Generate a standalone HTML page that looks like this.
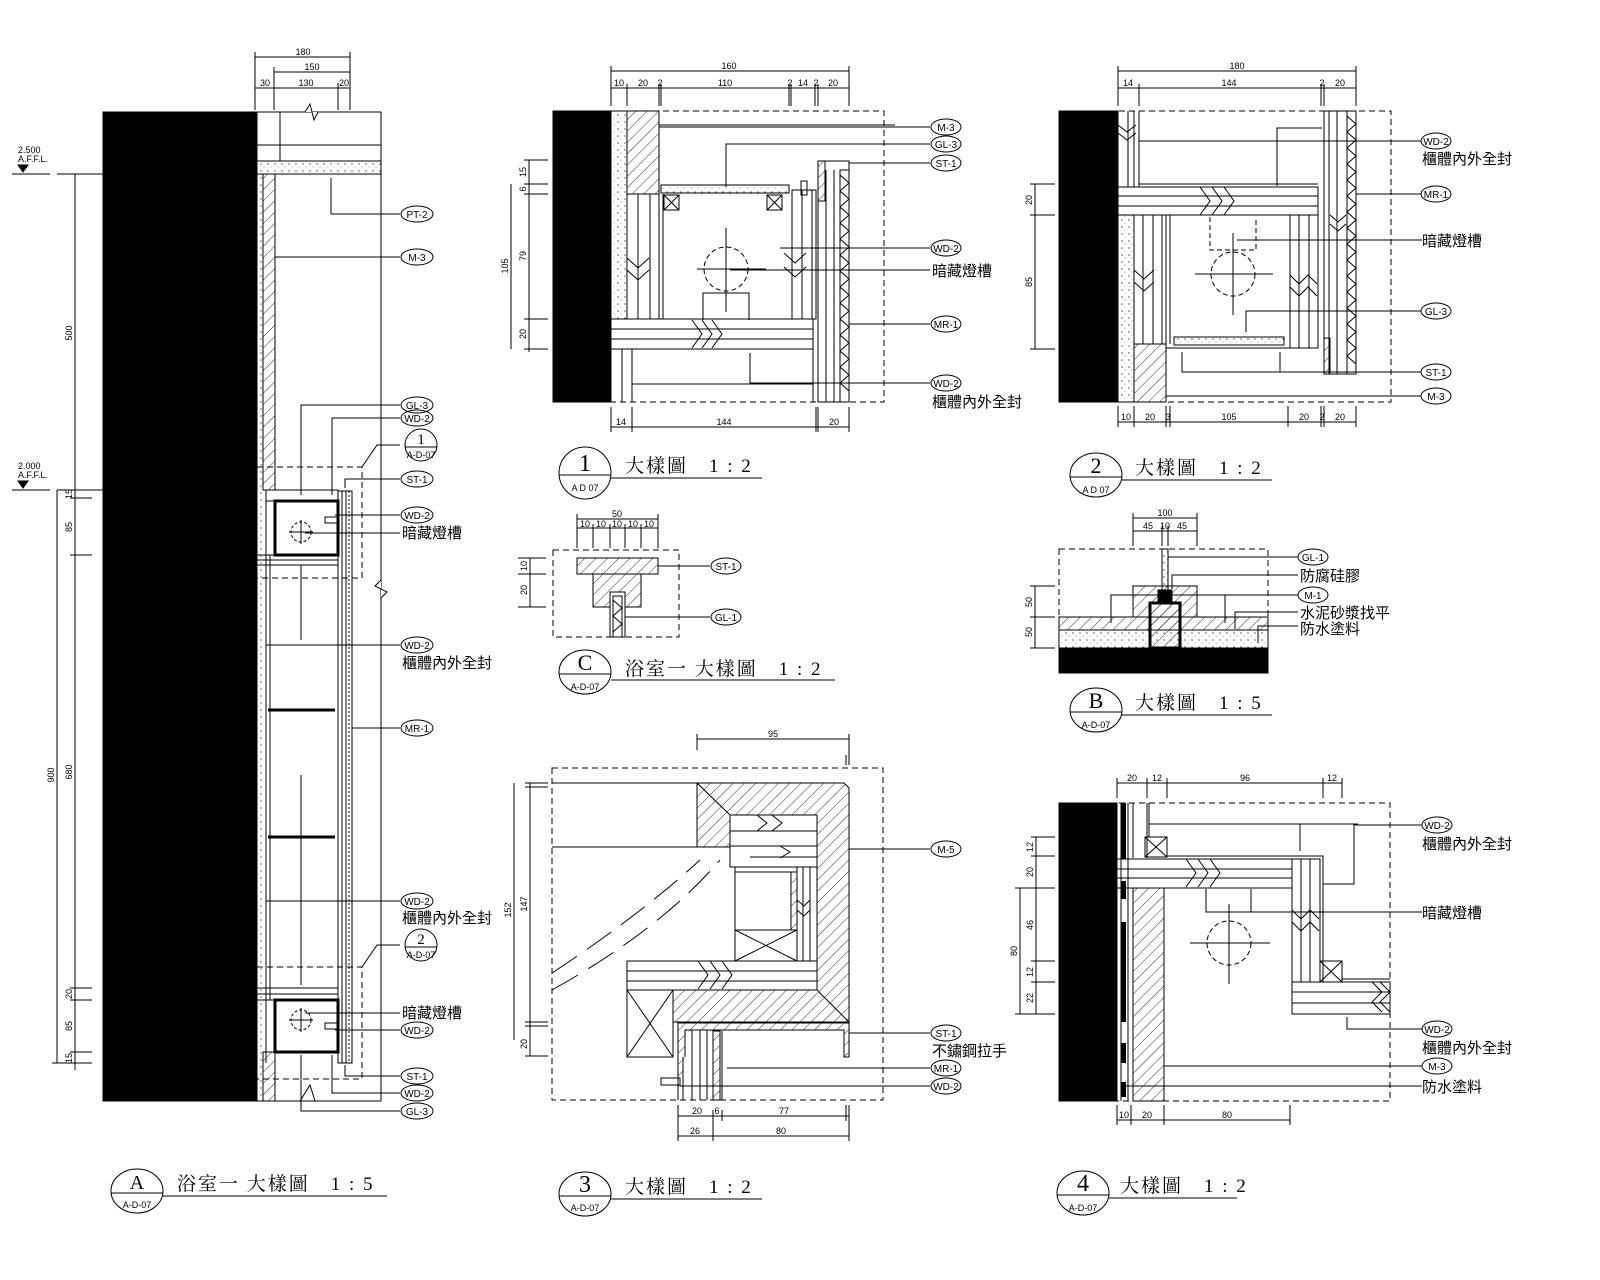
<!DOCTYPE html>
<html><head><meta charset="utf-8"><style>
html,body{margin:0;padding:0;background:#fff}
svg{display:block}
text{font-family:"Liberation Sans","Noto Sans CJK TC",sans-serif;fill:#000}
.d{font-size:9px}
.l{font-size:10px}
.c{font-family:"Liberation Serif","Noto Serif CJK SC","Noto Sans CJK TC",serif}
.t{font-size:19px;font-family:"Liberation Serif","Noto Serif CJK SC","Noto Sans CJK TC",serif;letter-spacing:2px}
</style></head><body>
<svg width="1600" height="1280" viewBox="0 0 1600 1280" xmlns="http://www.w3.org/2000/svg" stroke="#000" fill="none" stroke-width="1">
<defs>
<pattern id="h" width="8" height="8" patternUnits="userSpaceOnUse" patternTransform="rotate(45)"><line x1="0" y1="0" x2="0" y2="8" stroke="#000" stroke-width="0.8"/></pattern>
<pattern id="dt" width="7" height="7" patternUnits="userSpaceOnUse"><circle cx="2" cy="3" r="0.6" fill="#000" stroke="none"/><circle cx="5" cy="6" r="0.4" fill="#000" stroke="none"/></pattern>
</defs>

<!-- ================= A (left elevation) ================= -->
<rect x="103" y="112" width="154" height="989" fill="#000"/>
<rect x="257" y="174" width="6" height="927" fill="url(#dt)" stroke="none"/>
<rect x="263" y="174" width="12" height="316" fill="url(#h)"/>
<rect x="263" y="1052" width="12" height="49" fill="url(#h)"/>
<line x1="257" y1="112" x2="381" y2="112"/>
<line x1="381" y1="112" x2="381" y2="1101"/>
<line x1="257" y1="1101" x2="381" y2="1101"/>
<line x1="257" y1="145" x2="381" y2="145"/>
<line x1="280" y1="112" x2="280" y2="145"/>
<rect x="257" y="145" width="23" height="16"/>
<rect x="257" y="161" width="124" height="13" fill="url(#dt)"/>
<polyline points="295,112 305,112 310,104 314,120 318,112 381,112" fill="#fff"/>
<polyline points="381,580 375,586 387,592 381,598" fill="#fff"/>
<polyline points="300,1101 310,1085 315,1101" />
<!-- cabinet -->
<rect x="275" y="501" width="63" height="54" stroke-width="3"/>
<rect x="266" y="490" width="72" height="11"/>
<line x1="266" y1="490" x2="266" y2="1063"/>
<line x1="270" y1="555" x2="270" y2="1000"/>
<rect x="257" y="555" width="81" height="10"/>
<line x1="257" y1="560" x2="338" y2="560"/>
<rect x="257" y="988" width="81" height="12"/>
<line x1="257" y1="994" x2="338" y2="994"/>
<rect x="275" y="1000" width="63" height="52" stroke-width="3"/>
<rect x="338" y="491" width="14" height="572"/>
<line x1="342" y1="491" x2="342" y2="1063"/><line x1="346" y1="491" x2="346" y2="1063"/>
<line x1="349" y1="491" x2="349" y2="1063" stroke-dasharray="2,2"/>
<line x1="268" y1="710" x2="335" y2="710" stroke-width="3"/>
<line x1="268" y1="837" x2="335" y2="837" stroke-width="3"/>
<line x1="301" y1="775" x2="301" y2="985"/>
<line x1="301" y1="565" x2="301" y2="640"/>
<circle cx="301" cy="532" r="10" stroke-dasharray="3,2"/><line x1="289" y1="532" x2="313" y2="532"/><line x1="301" y1="520" x2="301" y2="544"/>
<circle cx="301" cy="1020" r="10" stroke-dasharray="3,2"/><line x1="289" y1="1020" x2="313" y2="1020"/><line x1="301" y1="1008" x2="301" y2="1032"/>
<rect x="325" y="517" width="12" height="6"/><rect x="325" y="1023" width="12" height="6"/>
<!-- callout dashed boxes -->
<path d="M257 467 H362 V578 H257" stroke-dasharray="6,4"/>
<polyline points="362,467 377,445 400,445"/>
<path d="M257 967 H362 V1079 H257" stroke-dasharray="6,4"/>
<polyline points="362,967 377,945 400,945"/>
<!-- leaders A -->
<polyline points="331,178 331,214 400,214"/>
<line x1="275" y1="257" x2="400" y2="257"/>
<polyline points="301,495 301,405 400,405"/>
<polyline points="332,495 332,418 400,418"/>
<polyline points="345,488 345,479 400,479"/>
<line x1="335" y1="515" x2="400" y2="515"/>
<line x1="305" y1="533" x2="400" y2="533"/>
<line x1="266" y1="645" x2="400" y2="645"/>
<line x1="352" y1="728" x2="400" y2="728"/>
<line x1="266" y1="901" x2="400" y2="901"/>
<line x1="305" y1="1013" x2="400" y2="1013"/>
<line x1="335" y1="1030" x2="400" y2="1030"/>
<polyline points="345,1065 345,1076 400,1076"/>
<polyline points="332,1055 332,1093 400,1093"/>
<polyline points="301,1055 301,1111 400,1111"/>
<g class="l" text-anchor="middle">
<ellipse cx="417" cy="214" rx="16" ry="8"/><text x="417" y="218" stroke="none">PT-2</text>
<ellipse cx="417" cy="257" rx="16" ry="8"/><text x="417" y="261" stroke="none">M-3</text>
<ellipse cx="417" cy="405" rx="16" ry="8"/><text x="417" y="409" stroke="none">GL-3</text>
<ellipse cx="417" cy="418" rx="16" ry="8"/><text x="417" y="422" stroke="none">WD-2</text>
<ellipse cx="417" cy="479" rx="16" ry="8"/><text x="417" y="483" stroke="none">ST-1</text>
<ellipse cx="417" cy="515" rx="16" ry="8"/><text x="417" y="519" stroke="none">WD-2</text>
<ellipse cx="417" cy="645" rx="16" ry="8"/><text x="417" y="649" stroke="none">WD-2</text>
<ellipse cx="417" cy="728" rx="16" ry="8"/><text x="417" y="732" stroke="none">MR-1</text>
<ellipse cx="417" cy="901" rx="16" ry="8"/><text x="417" y="905" stroke="none">WD-2</text>
<ellipse cx="417" cy="1030" rx="16" ry="8"/><text x="417" y="1034" stroke="none">WD-2</text>
<ellipse cx="417" cy="1076" rx="16" ry="8"/><text x="417" y="1080" stroke="none">ST-1</text>
<ellipse cx="417" cy="1093" rx="16" ry="8"/><text x="417" y="1097" stroke="none">WD-2</text>
<ellipse cx="417" cy="1111" rx="16" ry="8"/><text x="417" y="1115" stroke="none">GL-3</text>
</g>
<circle cx="421" cy="445" r="16"/><line x1="405" y1="447" x2="437" y2="447"/>
<text x="421" y="444" class="c" font-size="15" text-anchor="middle" stroke="none">1</text><text x="421" y="458" class="d" text-anchor="middle" stroke="none">A-D-07</text>
<circle cx="421" cy="945" r="16"/><line x1="405" y1="947" x2="437" y2="947"/>
<text x="421" y="944" class="c" font-size="15" text-anchor="middle" stroke="none">2</text><text x="421" y="958" class="d" text-anchor="middle" stroke="none">A-D-07</text>
<g stroke="none" font-size="15">
<text x="402" y="538">暗藏燈槽</text><text x="402" y="668">櫃體內外全封</text>
<text x="402" y="923">櫃體內外全封</text><text x="402" y="1018">暗藏燈槽</text>
</g>
<!-- A dims -->
<line x1="255" y1="57" x2="350" y2="57"/><line x1="274" y1="72" x2="350" y2="72"/><line x1="255" y1="88" x2="350" y2="88"/>
<line x1="255" y1="52" x2="255" y2="110"/><line x1="274" y1="67" x2="274" y2="110"/><line x1="338" y1="83" x2="338" y2="110"/><line x1="350" y1="52" x2="350" y2="110"/>
<g class="d" text-anchor="middle" stroke="none"><text x="303" y="55">180</text><text x="312" y="70">150</text><text x="265" y="86">30</text><text x="306" y="86">130</text><text x="344" y="86">20</text></g>
<text x="18" y="153" class="d" stroke="none">2.500</text><text x="18" y="162" class="d" stroke="none">A.F.F.L.</text>
<path d="M18 165 L28 165 L23 172 Z" fill="#000"/><line x1="12" y1="174" x2="50" y2="174"/><line x1="57" y1="174" x2="103" y2="174"/>
<text x="18" y="469" class="d" stroke="none">2.000</text><text x="18" y="478" class="d" stroke="none">A.F.F.L.</text>
<path d="M18 481 L28 481 L23 488 Z" fill="#000"/><line x1="12" y1="490" x2="50" y2="490"/><line x1="57" y1="490" x2="103" y2="490"/>
<line x1="75" y1="174" x2="75" y2="490"/><line x1="57" y1="490" x2="57" y2="1063"/><line x1="75" y1="490" x2="75" y2="1070"/>
<g stroke-width="1"><line x1="70" y1="498" x2="92" y2="498"/><line x1="70" y1="555" x2="92" y2="555"/><line x1="70" y1="988" x2="92" y2="988"/><line x1="70" y1="1000" x2="92" y2="1000"/><line x1="70" y1="1052" x2="92" y2="1052"/><line x1="52" y1="1063" x2="92" y2="1063"/></g>
<g class="d" stroke="none" text-anchor="middle">
<text transform="translate(72,333) rotate(-90)">500</text>
<text transform="translate(54,775) rotate(-90)">900</text>
<text transform="translate(72,494) rotate(-90)">15</text>
<text transform="translate(72,527) rotate(-90)">85</text>
<text transform="translate(72,772) rotate(-90)">680</text>
<text transform="translate(72,994) rotate(-90)">20</text>
<text transform="translate(72,1026) rotate(-90)">85</text>
<text transform="translate(72,1058) rotate(-90)">15</text>
</g>
<!-- title A -->
<ellipse cx="137" cy="1191" rx="26" ry="22"/><line x1="111" y1="1193" x2="163" y2="1193"/>
<text x="137" y="1189" class="c" text-anchor="middle" stroke="none" font-size="20">A</text><text x="137" y="1208" class="d" text-anchor="middle" stroke="none">A-D-07</text>
<text x="177" y="1190" class="t" stroke="none">浴室一 大樣圖　1 : 5</text><line x1="163" y1="1196" x2="387" y2="1196"/>

<!-- ================= Detail 1 ================= -->
<rect x="553" y="111" width="331" height="291" stroke-dasharray="6,4"/>
<rect x="553" y="111" width="58" height="291" fill="#000"/>
<rect x="611" y="111" width="16" height="208" fill="url(#dt)"/>
<rect x="627" y="111" width="32" height="83" fill="url(#h)"/>
<line x1="659" y1="125" x2="895" y2="125"/>
<g><line x1="627" y1="194" x2="627" y2="319"/><line x1="638" y1="194" x2="638" y2="319"/><line x1="650" y1="194" x2="650" y2="319"/><line x1="659" y1="194" x2="659" y2="319"/><line x1="663" y1="194" x2="663" y2="319"/></g>
<path d="M627 258 l11 10 l11 -10 M627 270 l11 10 l11 -10" />
<rect x="661" y="185" width="128" height="8" fill="url(#dt)"/>
<rect x="664" y="195" width="15" height="15"/><path d="M664 195 l15 15 M679 195 l-15 15"/>
<rect x="767" y="195" width="15" height="15"/><path d="M767 195 l15 15 M782 195 l-15 15"/>
<rect x="792" y="190" width="24" height="129"/><line x1="802" y1="190" x2="802" y2="319"/><line x1="812" y1="190" x2="812" y2="319"/>
<rect x="801" y="181" width="6" height="14"/>
<path d="M784 253 l11 10 l11 -10 M784 267 l11 10 l11 -10" />
<circle cx="726" cy="269" r="22" stroke-dasharray="5,3"/><line x1="697" y1="269" x2="766" y2="269"/><line x1="726" y1="228" x2="726" y2="312"/>
<path d="M703 320 V293 H749 V320" />
<rect x="611" y="319" width="202" height="30"/><line x1="611" y1="329" x2="813" y2="329"/><line x1="611" y1="339" x2="813" y2="339"/>
<path d="M692 320 l10 14 l-10 14 M702 320 l10 14 l-10 14 M712 320 l10 14 l-10 14"/>
<line x1="611" y1="349" x2="611" y2="402"/><line x1="622" y1="349" x2="622" y2="402"/><line x1="632" y1="349" x2="632" y2="402"/>
<line x1="632" y1="384" x2="813" y2="384"/>
<line x1="813" y1="349" x2="813" y2="402"/>
<rect x="818" y="161" width="31" height="241"/>
<rect x="818" y="161" width="7" height="40" fill="url(#h)"/>
<line x1="826" y1="170" x2="826" y2="402"/><line x1="834" y1="170" x2="834" y2="402"/>
<rect x="840" y="170" width="9" height="232"/>
<path d="M840 175 l9 8 l-9 8 l9 8 l-9 8 l9 8 l-9 8 l9 8 l-9 8 l9 8 l-9 8 l9 8 l-9 8 l9 8 l-9 8 l9 8 l-9 8 l9 8 l-9 8 l9 8 l-9 8 l9 8 l-9 8 l9 8 l-9 8 l9 8 l-9 8 l9 8"/>
<!-- leaders 1 -->
<line x1="659" y1="127" x2="930" y2="127"/>
<polyline points="726,187 726,144 930,144"/>
<line x1="849" y1="163" x2="930" y2="163"/>
<polyline points="780,248 930,248"/>
<line x1="730" y1="270" x2="930" y2="270"/>
<line x1="849" y1="324" x2="930" y2="324"/>
<polyline points="750,353 750,383 930,383"/>
<g class="l" text-anchor="middle">
<ellipse cx="946" cy="127" rx="15" ry="8" fill="#fff"/><text x="946" y="131" stroke="none">M-3</text>
<ellipse cx="946" cy="144" rx="15" ry="8" fill="#fff"/><text x="946" y="148" stroke="none">GL-3</text>
<ellipse cx="946" cy="163" rx="15" ry="8" fill="#fff"/><text x="946" y="167" stroke="none">ST-1</text>
<ellipse cx="946" cy="248" rx="15" ry="8" fill="#fff"/><text x="946" y="252" stroke="none">WD-2</text>
<ellipse cx="946" cy="324" rx="15" ry="8" fill="#fff"/><text x="946" y="328" stroke="none">MR-1</text>
<ellipse cx="946" cy="383" rx="15" ry="8" fill="#fff"/><text x="946" y="387" stroke="none">WD-2</text>
</g>
<text x="932" y="276" stroke="none" font-size="15">暗藏燈槽</text>
<text x="932" y="407" stroke="none" font-size="15">櫃體內外全封</text>
<!-- dims 1 -->
<line x1="611" y1="71" x2="849" y2="71"/><line x1="611" y1="88" x2="849" y2="88"/>
<g><line x1="611" y1="66" x2="611" y2="106"/><line x1="627" y1="84" x2="627" y2="106"/><line x1="659" y1="84" x2="659" y2="106"/><line x1="661" y1="84" x2="661" y2="106"/><line x1="789" y1="84" x2="789" y2="106"/><line x1="791" y1="84" x2="791" y2="106"/><line x1="815" y1="84" x2="815" y2="106"/><line x1="818" y1="84" x2="818" y2="106"/><line x1="849" y1="66" x2="849" y2="106"/></g>
<g class="d" text-anchor="middle" stroke="none"><text x="729" y="69">160</text><text x="619" y="86">10</text><text x="643" y="86">20</text><text x="660" y="86">2</text><text x="725" y="86">110</text><text x="790" y="86">2</text><text x="803" y="86">14</text><text x="816" y="86">2</text><text x="833" y="86">20</text></g>
<line x1="611" y1="427" x2="849" y2="427"/><g><line x1="611" y1="407" x2="611" y2="432"/><line x1="632" y1="407" x2="632" y2="432"/><line x1="816" y1="407" x2="816" y2="432"/><line x1="818" y1="407" x2="818" y2="432"/><line x1="849" y1="407" x2="849" y2="432"/></g>
<g class="d" text-anchor="middle" stroke="none"><text x="621" y="425">14</text><text x="724" y="425">144</text><text x="834" y="425">20</text></g>
<line x1="529" y1="160" x2="529" y2="352"/>
<g><line x1="524" y1="160" x2="548" y2="160"/><line x1="524" y1="184" x2="548" y2="184"/><line x1="524" y1="194" x2="548" y2="194"/><line x1="524" y1="319" x2="548" y2="319"/><line x1="524" y1="349" x2="548" y2="349"/></g>
<line x1="511" y1="184" x2="511" y2="349"/>
<g class="d" stroke="none" text-anchor="middle"><text transform="translate(526,172) rotate(-90)">15</text><text transform="translate(526,189) rotate(-90)">6</text><text transform="translate(526,256) rotate(-90)">79</text><text transform="translate(526,334) rotate(-90)">20</text><text transform="translate(508,266) rotate(-90)">105</text></g>
<circle cx="585" cy="473" r="26"/><line x1="559" y1="475" x2="611" y2="475"/>
<text x="585" y="471" class="c" text-anchor="middle" stroke="none" font-size="24">1</text><text x="585" y="491" class="d" text-anchor="middle" stroke="none">A D 07</text>
<text x="625" y="472" class="t" stroke="none">大樣圖　1 : 2</text><line x1="611" y1="478" x2="762" y2="478"/>

<!-- ================= Detail 2 ================= -->
<rect x="1059" y="111" width="332" height="291" stroke-dasharray="6,4"/>
<rect x="1059" y="111" width="59" height="291" fill="#000"/>
<line x1="1118" y1="111" x2="1118" y2="187"/><line x1="1128" y1="111" x2="1128" y2="187"/><line x1="1134" y1="111" x2="1134" y2="187"/><line x1="1139" y1="111" x2="1139" y2="187"/>
<path d="M1118 125 l9 7 l9 -7 M1118 133 l9 7 l9 -7"/>
<rect x="1118" y="187" width="200" height="28"/><line x1="1118" y1="196" x2="1318" y2="196"/><line x1="1118" y1="206" x2="1318" y2="206"/>
<path d="M1200 187 l10 14 l-10 14 M1212 187 l10 14 l-10 14 M1224 187 l10 14 l-10 14"/>
<line x1="1139" y1="184" x2="1318" y2="184"/>
<rect x="1118" y="215" width="16" height="187" fill="url(#dt)"/>
<rect x="1134" y="344" width="32" height="58" fill="url(#h)"/>
<line x1="1134" y1="215" x2="1134" y2="344"/><line x1="1143" y1="215" x2="1143" y2="344"/><line x1="1153" y1="215" x2="1153" y2="344"/><line x1="1162" y1="215" x2="1162" y2="344"/><line x1="1166" y1="215" x2="1166" y2="344"/><line x1="1170" y1="215" x2="1170" y2="344"/>
<path d="M1134 270 l10 9 l10 -9 M1134 282 l10 9 l10 -9"/>
<rect x="1174" y="337" width="110" height="8" fill="url(#dt)"/>
<line x1="1166" y1="348" x2="1290" y2="348"/>
<rect x="1290" y="215" width="28" height="133"/><line x1="1299" y1="215" x2="1299" y2="348"/><line x1="1309" y1="215" x2="1309" y2="348"/>
<path d="M1290 275 l9 9 l9 -9 l9 9 M1290 287 l9 9 l9 -9 l9 9"/>
<circle cx="1233" cy="274" r="22" stroke-dasharray="5,3"/><line x1="1195" y1="274" x2="1273" y2="274"/><line x1="1233" y1="233" x2="1233" y2="315"/>
<path d="M1210 217 V250 H1256 V217" stroke-dasharray="5,3"/>
<rect x="1324" y="111" width="32" height="263"/>
<line x1="1329" y1="111" x2="1329" y2="374"/><line x1="1337" y1="111" x2="1337" y2="374"/>
<rect x="1347" y="111" width="9" height="263"/>
<path d="M1347 116 l9 8 l-9 8 l9 8 l-9 8 l9 8 l-9 8 l9 8 l-9 8 l9 8 l-9 8 l9 8 l-9 8 l9 8 l-9 8 l9 8 l-9 8 l9 8 l-9 8 l9 8 l-9 8 l9 8 l-9 8 l9 8 l-9 8 l9 8 l-9 8 l9 8 l-9 8 l9 8 l-9 8 l9 8"/>
<rect x="1324" y="338" width="6" height="36" fill="url(#h)"/>
<path d="M1330 215 l8 7 l8 -7 M1330 224 l8 7 l8 -7"/>
<!-- leaders 2 -->
<line x1="1139" y1="141" x2="1422" y2="141"/>
<polyline points="1277,186 1277,128 1322,128"/>
<line x1="1356" y1="194" x2="1422" y2="194"/>
<line x1="1237" y1="240" x2="1422" y2="240"/>
<polyline points="1246,332 1246,311 1422,311"/>
<polyline points="1182,352 1182,372 1422,372"/><line x1="1280" y1="352" x2="1280" y2="372"/>
<line x1="1166" y1="396" x2="1422" y2="396"/>
<g class="l" text-anchor="middle">
<ellipse cx="1436" cy="141" rx="15" ry="8" fill="#fff"/><text x="1436" y="145" stroke="none">WD-2</text>
<ellipse cx="1436" cy="194" rx="15" ry="8" fill="#fff"/><text x="1436" y="198" stroke="none">MR-1</text>
<ellipse cx="1436" cy="311" rx="15" ry="8" fill="#fff"/><text x="1436" y="315" stroke="none">GL-3</text>
<ellipse cx="1436" cy="372" rx="15" ry="8" fill="#fff"/><text x="1436" y="376" stroke="none">ST-1</text>
<ellipse cx="1436" cy="396" rx="15" ry="8" fill="#fff"/><text x="1436" y="400" stroke="none">M-3</text>
</g>
<text x="1422" y="164" stroke="none" font-size="15">櫃體內外全封</text>
<text x="1422" y="246" stroke="none" font-size="15">暗藏燈槽</text>
<line x1="1118" y1="71" x2="1356" y2="71"/><line x1="1118" y1="88" x2="1356" y2="88"/>
<g><line x1="1118" y1="66" x2="1118" y2="106"/><line x1="1139" y1="84" x2="1139" y2="106"/><line x1="1321" y1="84" x2="1321" y2="106"/><line x1="1324" y1="84" x2="1324" y2="106"/><line x1="1356" y1="66" x2="1356" y2="106"/></g>
<g class="d" text-anchor="middle" stroke="none"><text x="1237" y="69">180</text><text x="1128" y="86">14</text><text x="1229" y="86">144</text><text x="1322" y="86">2</text><text x="1340" y="86">20</text></g>
<line x1="1118" y1="422" x2="1356" y2="422"/>
<g><line x1="1118" y1="406" x2="1118" y2="427"/><line x1="1134" y1="406" x2="1134" y2="427"/><line x1="1166" y1="406" x2="1166" y2="427"/><line x1="1170" y1="406" x2="1170" y2="427"/><line x1="1288" y1="406" x2="1288" y2="427"/><line x1="1321" y1="406" x2="1321" y2="427"/><line x1="1324" y1="406" x2="1324" y2="427"/><line x1="1356" y1="406" x2="1356" y2="427"/></g>
<g class="d" text-anchor="middle" stroke="none"><text x="1126" y="420">10</text><text x="1150" y="420">20</text><text x="1168" y="420">3</text><text x="1229" y="420">105</text><text x="1304" y="420">20</text><text x="1322" y="420">2</text><text x="1340" y="420">20</text></g>
<line x1="1035" y1="184" x2="1035" y2="349"/><g><line x1="1030" y1="184" x2="1055" y2="184"/><line x1="1030" y1="215" x2="1055" y2="215"/><line x1="1030" y1="349" x2="1055" y2="349"/></g>
<g class="d" stroke="none" text-anchor="middle"><text transform="translate(1032,200) rotate(-90)">20</text><text transform="translate(1032,282) rotate(-90)">85</text></g>
<ellipse cx="1096" cy="475" rx="26" ry="22"/><line x1="1070" y1="477" x2="1122" y2="477"/>
<text x="1096" y="473" class="c" text-anchor="middle" stroke="none" font-size="22">2</text><text x="1096" y="493" class="d" text-anchor="middle" stroke="none">A D 07</text>
<text x="1135" y="474" class="t" stroke="none">大樣圖　1 : 2</text><line x1="1122" y1="480" x2="1272" y2="480"/>

<!-- ================= Detail C ================= -->
<rect x="553" y="550" width="126" height="87" stroke-dasharray="6,4"/>
<rect x="577" y="558" width="81" height="16" fill="url(#h)"/>
<rect x="593" y="574" width="48" height="33" fill="url(#h)"/>
<rect x="610" y="592" width="15" height="45" fill="#fff"/>
<rect x="613" y="596" width="9" height="41"/>
<path d="M613 600 l9 8 l-9 8 l9 8 l-9 8"/>
<line x1="658" y1="566" x2="710" y2="566"/><line x1="625" y1="617" x2="710" y2="617"/>
<g class="l" text-anchor="middle"><ellipse cx="726" cy="566" rx="15" ry="8"/><text x="726" y="570" stroke="none">ST-1</text><ellipse cx="726" cy="617" rx="15" ry="8"/><text x="726" y="621" stroke="none">GL-1</text></g>
<line x1="577" y1="519" x2="658" y2="519"/><line x1="577" y1="528" x2="658" y2="528"/>
<g><line x1="577" y1="514" x2="577" y2="548"/><line x1="593" y1="524" x2="593" y2="548"/><line x1="610" y1="524" x2="610" y2="548"/><line x1="625" y1="524" x2="625" y2="548"/><line x1="641" y1="524" x2="641" y2="548"/><line x1="658" y1="514" x2="658" y2="548"/></g>
<g class="d" text-anchor="middle" stroke="none"><text x="617" y="517">50</text><text x="585" y="527">10</text><text x="601" y="527">10</text><text x="617" y="527">10</text><text x="633" y="527">10</text><text x="649" y="527">10</text></g>
<line x1="530" y1="558" x2="530" y2="607"/><g><line x1="518" y1="558" x2="546" y2="558"/><line x1="518" y1="574" x2="546" y2="574"/><line x1="518" y1="607" x2="546" y2="607"/></g>
<g class="d" stroke="none" text-anchor="middle"><text transform="translate(527,566) rotate(-90)">10</text><text transform="translate(527,590) rotate(-90)">20</text></g>
<ellipse cx="585" cy="672" rx="26" ry="22"/><line x1="559" y1="674" x2="611" y2="674"/>
<text x="585" y="670" class="c" text-anchor="middle" stroke="none" font-size="22">C</text><text x="585" y="690" class="d" text-anchor="middle" stroke="none">A-D-07</text>
<text x="625" y="675" class="t" stroke="none">浴室一 大樣圖　1 : 2</text><line x1="611" y1="680" x2="835" y2="680"/>

<!-- ================= Detail B ================= -->
<rect x="1059" y="549" width="209" height="124" stroke-dasharray="6,4"/>
<rect x="1059" y="648" width="209" height="25" fill="#000"/>
<rect x="1059" y="617" width="209" height="13" fill="url(#h)"/>
<rect x="1059" y="630" width="209" height="18" fill="url(#dt)"/>
<rect x="1133" y="586" width="64" height="31" fill="url(#h)"/>
<rect x="1150" y="603" width="30" height="45" fill="url(#h)" stroke-width="3"/>
<rect x="1158" y="590" width="14" height="12" fill="#000"/>
<rect x="1162" y="549" width="6" height="42" fill="url(#dt)"/>
<polyline points="1168,557 1298,557"/>
<polyline points="1172,589 1172,575 1298,575"/>
<polyline points="1111,623 1111,595 1298,595"/><line x1="1225" y1="595" x2="1225" y2="623"/>
<polyline points="1235,629 1235,612 1298,612"/>
<polyline points="1258,643 1258,626 1298,626"/>
<g class="l" text-anchor="middle"><ellipse cx="1313" cy="557" rx="15" ry="8"/><text x="1313" y="561" stroke="none">GL-1</text><ellipse cx="1313" cy="595" rx="15" ry="8"/><text x="1313" y="599" stroke="none">M-1</text></g>
<g stroke="none" font-size="15"><text x="1300" y="581">防腐硅膠</text><text x="1300" y="618">水泥砂漿找平</text><text x="1300" y="634">防水塗料</text></g>
<line x1="1133" y1="518" x2="1197" y2="518"/><line x1="1133" y1="531" x2="1197" y2="531"/>
<g><line x1="1133" y1="513" x2="1133" y2="546"/><line x1="1162" y1="526" x2="1162" y2="546"/><line x1="1168" y1="526" x2="1168" y2="546"/><line x1="1197" y1="513" x2="1197" y2="546"/></g>
<g class="d" text-anchor="middle" stroke="none"><text x="1165" y="516">100</text><text x="1148" y="529">45</text><text x="1165" y="529">10</text><text x="1182" y="529">45</text></g>
<line x1="1035" y1="586" x2="1035" y2="648"/><g><line x1="1030" y1="586" x2="1055" y2="586"/><line x1="1030" y1="617" x2="1055" y2="617"/><line x1="1030" y1="648" x2="1055" y2="648"/></g>
<g class="d" stroke="none" text-anchor="middle"><text transform="translate(1032,602) rotate(-90)">50</text><text transform="translate(1032,632) rotate(-90)">50</text></g>
<ellipse cx="1096" cy="710" rx="26" ry="22"/><line x1="1070" y1="712" x2="1122" y2="712"/>
<text x="1096" y="708" class="c" text-anchor="middle" stroke="none" font-size="22">B</text><text x="1096" y="728" class="d" text-anchor="middle" stroke="none">A-D-07</text>
<text x="1135" y="709" class="t" stroke="none">大樣圖　1 : 5</text><line x1="1122" y1="715" x2="1272" y2="715"/>

<!-- ================= Detail 3 ================= -->
<rect x="552" y="768" width="331" height="332" stroke-dasharray="6,4"/>
<path d="M697 783 H844 L849 788 V1022 H673 V990 H817 V815 H730 V847 H697 Z" fill="url(#h)"/>
<path d="M697 783 l33 32 M849 1022 l-32 -32" />
<line x1="552" y1="783" x2="697" y2="783"/>
<path d="M552 847 H740 q6 6 0 14 H735" />
<rect x="730" y="815" width="87" height="52" fill="#fff"/>
<line x1="730" y1="831" x2="817" y2="831"/><line x1="730" y1="846" x2="817" y2="846"/><line x1="750" y1="857" x2="817" y2="857"/>
<path d="M757 815 l10 8 l-10 8 M772 815 l10 8 l-10 8 M780 846 l10 6 l-10 6"/>
<rect x="735" y="867" width="62" height="94" fill="#fff"/>
<rect x="735" y="872" width="56" height="58"/>
<rect x="791" y="872" width="6" height="58" fill="url(#h)"/>
<path d="M735 930 L797 961 M797 930 L735 961"/>
<line x1="797" y1="867" x2="797" y2="961"/><line x1="803" y1="867" x2="803" y2="961"/><line x1="810" y1="867" x2="810" y2="961"/>
<path d="M797 900 l7 6 l6 -6 M797 910 l7 6 l6 -6"/>
<rect x="627" y="961" width="190" height="29" fill="#fff"/>
<line x1="627" y1="971" x2="817" y2="971"/><line x1="627" y1="981" x2="817" y2="981"/>
<path d="M698 961 l10 14 l-10 14 M710 961 l10 14 l-10 14 M722 961 l10 14 l-10 14"/>
<rect x="627" y="990" width="46" height="67"/><path d="M627 990 L673 1057 M673 990 L627 1057"/>
<path d="M678 1100 V1023 H849 V1057 H844 V1030 H685 V1057" fill="url(#h)"/>
<line x1="683" y1="1057" x2="683" y2="1100"/>
<line x1="692" y1="1030" x2="692" y2="1100"/><line x1="700" y1="1030" x2="700" y2="1100"/><line x1="707" y1="1030" x2="707" y2="1100"/>
<rect x="713" y="1031" width="7" height="69" fill="url(#h)"/><line x1="722" y1="1031" x2="722" y2="1100"/>
<rect x="661" y="1078" width="19" height="7"/>
<path d="M552 973 Q640 915 700 860" stroke-dasharray="30,12"/>
<path d="M552 990 Q660 930 720 860" stroke-dasharray="30,12"/>
<line x1="849" y1="849" x2="930" y2="849"/>
<line x1="849" y1="1033" x2="930" y2="1033"/>
<line x1="727" y1="1068" x2="930" y2="1068"/>
<line x1="680" y1="1086" x2="930" y2="1086"/>
<g class="l" text-anchor="middle">
<ellipse cx="946" cy="849" rx="15" ry="8" fill="#fff"/><text x="946" y="853" stroke="none">M-5</text>
<ellipse cx="946" cy="1033" rx="15" ry="8" fill="#fff"/><text x="946" y="1037" stroke="none">ST-1</text>
<ellipse cx="946" cy="1068" rx="15" ry="8" fill="#fff"/><text x="946" y="1072" stroke="none">MR-1</text>
<ellipse cx="946" cy="1086" rx="15" ry="8" fill="#fff"/><text x="946" y="1090" stroke="none">WD-2</text>
</g>
<text x="932" y="1056" stroke="none" font-size="15">不鏽鋼拉手</text>
<line x1="697" y1="739" x2="849" y2="739"/><line x1="697" y1="734" x2="697" y2="750"/><line x1="849" y1="734" x2="849" y2="765"/><line x1="846" y1="755" x2="846" y2="765"/>
<text x="773" y="737" class="d" text-anchor="middle" stroke="none">95</text>
<line x1="678" y1="1116" x2="849" y2="1116"/><line x1="678" y1="1136" x2="849" y2="1136"/>
<g><line x1="678" y1="1105" x2="678" y2="1141"/><line x1="713" y1="1110" x2="713" y2="1141"/><line x1="722" y1="1110" x2="722" y2="1121"/><line x1="849" y1="1105" x2="849" y2="1141"/><line x1="846" y1="1105" x2="846" y2="1121"/></g>
<g class="d" text-anchor="middle" stroke="none"><text x="697" y="1114">20</text><text x="717" y="1114">6</text><text x="784" y="1114">77</text><text x="695" y="1134">26</text><text x="781" y="1134">80</text></g>
<line x1="530" y1="783" x2="530" y2="1056"/>
<g><line x1="525" y1="783" x2="548" y2="783"/><line x1="525" y1="787" x2="548" y2="787"/><line x1="525" y1="1022" x2="548" y2="1022"/><line x1="525" y1="1026" x2="548" y2="1026"/><line x1="525" y1="1056" x2="548" y2="1056"/></g>
<line x1="514" y1="783" x2="514" y2="1040"/>
<g class="d" stroke="none" text-anchor="middle"><text transform="translate(527,904) rotate(-90)">147</text><text transform="translate(527,1044) rotate(-90)">20</text><text transform="translate(511,910) rotate(-90)">152</text></g>
<ellipse cx="585" cy="1194" rx="26" ry="22"/><line x1="559" y1="1196" x2="611" y2="1196"/>
<text x="585" y="1192" class="c" text-anchor="middle" stroke="none" font-size="24">3</text><text x="585" y="1211" class="d" text-anchor="middle" stroke="none">A-D-07</text>
<text x="625" y="1193" class="t" stroke="none">大樣圖　1 : 2</text><line x1="611" y1="1199" x2="762" y2="1199"/>

<!-- ================= Detail 4 ================= -->
<rect x="1059" y="803" width="331" height="298" stroke-dasharray="6,4"/>
<rect x="1059" y="803" width="58" height="298" fill="#000"/>
<line x1="1121" y1="803" x2="1121" y2="1101"/><line x1="1128" y1="803" x2="1128" y2="1101"/>
<g fill="#000" stroke="none"><rect x="1121" y="803" width="5" height="56"/><rect x="1121" y="881" width="5" height="18"/><rect x="1121" y="922" width="5" height="100"/><rect x="1121" y="1043" width="5" height="20"/><rect x="1121" y="1082" width="5" height="15"/></g>
<line x1="1133" y1="803" x2="1133" y2="858"/><line x1="1147" y1="803" x2="1147" y2="858"/><line x1="1149" y1="803" x2="1149" y2="837"/>
<rect x="1145" y="837" width="22" height="20"/><path d="M1145 837 l22 20 M1167 837 l-22 20"/>
<line x1="1149" y1="824" x2="1358" y2="824"/>
<rect x="1117" y="859" width="175" height="29"/><line x1="1117" y1="869" x2="1292" y2="869"/><line x1="1117" y1="878" x2="1292" y2="878"/>
<path d="M1167 856 H1323 V982"/>
<path d="M1186 859 l10 14 l-10 14 M1198 859 l10 14 l-10 14 M1210 859 l10 14 l-10 14"/>
<rect x="1133" y="888" width="31" height="213" fill="url(#h)"/>
<rect x="1292" y="859" width="28" height="123"/><line x1="1301" y1="859" x2="1301" y2="982"/><line x1="1310" y1="859" x2="1310" y2="982"/>
<path d="M1292 910 l9 9 l9 -9 l9 9 M1292 922 l9 9 l9 -9 l9 9"/>
<rect x="1320" y="961" width="22" height="21"/><path d="M1320 961 l22 21 M1342 961 l-22 21"/>
<line x1="1342" y1="979" x2="1390" y2="979"/>
<rect x="1292" y="982" width="98" height="32"/><line x1="1292" y1="992" x2="1390" y2="992"/><line x1="1292" y1="1003" x2="1390" y2="1003"/>
<path d="M1372 982 l10 10 l-10 10 l10 10 M1380 982 l10 10 l-10 10 l10 10"/>
<circle cx="1229" cy="943" r="22" stroke-dasharray="5,3"/><line x1="1190" y1="943" x2="1270" y2="943"/><line x1="1229" y1="904" x2="1229" y2="984"/>
<path d="M1206 889 V912 H1251 V889"/>
<!-- leaders 4 -->
<polyline points="1300,851 1300,824"/>
<polyline points="1323,884 1354,884 1354,825 1422,825"/>
<line x1="1229" y1="912" x2="1422" y2="912"/>
<polyline points="1347,1017 1347,1029 1422,1029"/>
<line x1="1164" y1="1066" x2="1422" y2="1066"/>
<line x1="1126" y1="1086" x2="1422" y2="1086"/>
<g class="l" text-anchor="middle">
<ellipse cx="1437" cy="825" rx="15" ry="8" fill="#fff"/><text x="1437" y="829" stroke="none">WD-2</text>
<ellipse cx="1437" cy="1029" rx="15" ry="8" fill="#fff"/><text x="1437" y="1033" stroke="none">WD-2</text>
<ellipse cx="1437" cy="1066" rx="15" ry="8" fill="#fff"/><text x="1437" y="1070" stroke="none">M-3</text>
</g>
<g stroke="none" font-size="15"><text x="1422" y="849">櫃體內外全封</text><text x="1422" y="918">暗藏燈槽</text><text x="1422" y="1053">櫃體內外全封</text><text x="1422" y="1092">防水塗料</text></g>
<line x1="1117" y1="783" x2="1342" y2="783"/>
<g><line x1="1117" y1="778" x2="1117" y2="798"/><line x1="1147" y1="778" x2="1147" y2="798"/><line x1="1167" y1="778" x2="1167" y2="798"/><line x1="1323" y1="778" x2="1323" y2="798"/><line x1="1342" y1="778" x2="1342" y2="798"/></g>
<g class="d" text-anchor="middle" stroke="none"><text x="1132" y="781">20</text><text x="1157" y="781">12</text><text x="1245" y="781">96</text><text x="1332" y="781">12</text></g>
<line x1="1117" y1="1120" x2="1290" y2="1120"/>
<g><line x1="1117" y1="1105" x2="1117" y2="1125"/><line x1="1131" y1="1105" x2="1131" y2="1125"/><line x1="1164" y1="1105" x2="1164" y2="1125"/><line x1="1290" y1="1105" x2="1290" y2="1125"/></g>
<g class="d" text-anchor="middle" stroke="none"><text x="1124" y="1118">10</text><text x="1147" y="1118">20</text><text x="1227" y="1118">80</text></g>
<line x1="1036" y1="837" x2="1036" y2="1014"/><line x1="1020" y1="888" x2="1020" y2="1014"/>
<g><line x1="1031" y1="837" x2="1055" y2="837"/><line x1="1031" y1="856" x2="1055" y2="856"/><line x1="1015" y1="888" x2="1055" y2="888"/><line x1="1031" y1="961" x2="1055" y2="961"/><line x1="1031" y1="982" x2="1055" y2="982"/><line x1="1015" y1="1014" x2="1055" y2="1014"/></g>
<g class="d" stroke="none" text-anchor="middle"><text transform="translate(1033,847) rotate(-90)">12</text><text transform="translate(1033,872) rotate(-90)">20</text><text transform="translate(1033,925) rotate(-90)">46</text><text transform="translate(1033,972) rotate(-90)">12</text><text transform="translate(1033,998) rotate(-90)">22</text><text transform="translate(1017,951) rotate(-90)">80</text></g>
<ellipse cx="1083" cy="1193" rx="26" ry="22"/><line x1="1057" y1="1195" x2="1109" y2="1195"/>
<text x="1083" y="1191" class="c" text-anchor="middle" stroke="none" font-size="24">4</text><text x="1083" y="1211" class="d" text-anchor="middle" stroke="none">A-D-07</text>
<text x="1120" y="1192" class="t" stroke="none">大樣圖　1 : 2</text><line x1="1109" y1="1198" x2="1237" y2="1198"/>
</svg>
</body></html>
